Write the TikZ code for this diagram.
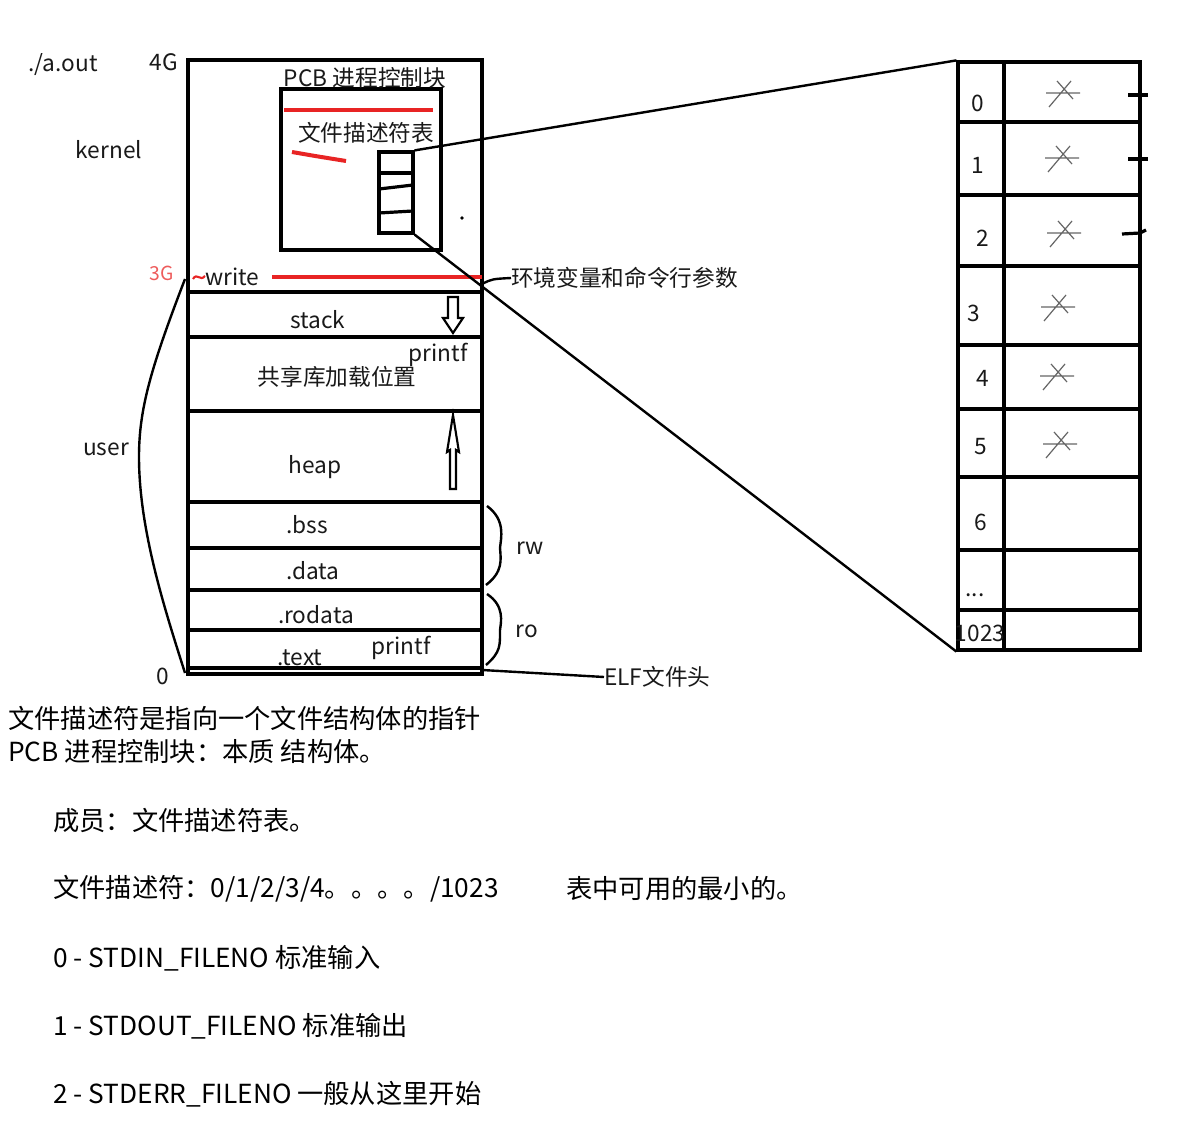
\documentclass[tikz,border=0pt]{standalone}
\usepackage{fontspec}
\setmainfont{Noto Sans CJK SC}
\usetikzlibrary{fit}
\definecolor{penred}{RGB}{232,36,36}
\newcommand{\diag}{\fontsize{17}{20}\selectfont}

\begin{document}
\begin{tikzpicture}[x=0.75pt, y=-0.75pt,
		box/.style={draw, line width=2.4pt, inner sep=0pt},
		sep/.style={line width=2.4pt},
		link/.style={line width=1.8pt},
		redline/.style={draw=penred, line width=3pt},
		lbl/.style={font=\diag, text=black!90, inner sep=0pt},
		note/.style={font=\fontsize{19.7}{23}\selectfont, anchor=west, inner sep=0pt},
		cross/.style={draw=black!60, line width=0.9pt}
	]
	\path[fill=white] (0,0) rectangle (1179,1137);

	% process address space
	\path (188,60) coordinate (m1) (482,674) coordinate (m2);
	\node[box, fit=(m1)(m2)] (mem) {};
	\foreach \y in {292,337,411,502,548,590,630,668}
		\draw[sep] (188,\y) -- (482,\y);

	% PCB inside kernel
	\path (281,89) coordinate (p1) (441,250) coordinate (p2);
	\node[box, fit=(p1)(p2)] (pcb) {};
	\node[lbl] (pcbtitle) at (365,78) {PCB 进程控制块};
	\node[lbl] (fdtitle) at (366,133) {文件描述符表};
	\draw[redline] (284,110) -- (433,110);
	\draw[redline] (292,152) .. controls (315,156) .. (346,161);
	\path (379,152) coordinate (s1) (413,233) coordinate (s2);
	\node[box, fit=(s1)(s2)] (fdsmall) {};
	\draw[sep] (379,173) -- (413,173);
	\draw[sep] (379,189) -- (413,185);
	\draw[sep] (379,213) -- (413,211);
	\fill (462,218) circle (1.8);

	% labels on the left
	\node[lbl] (aout) at (63,65) {./a.out};
	\node[lbl] (top4g) at (164,62) {4G};
	\node[lbl] (kernel) at (109,150) {kernel};
	\node[lbl, font=\fontsize{14.5}{16}\selectfont, text=penred!75] (mark3g) at (162,273) {3G};
	\node[lbl] (user) at (106,449) {user};
	\node[lbl] (zero) at (163,676) {0};

	% write and segments
	\draw[penred, line width=1.6pt] (193,279) .. controls (197,272) and (200,282) .. (205,276);
	\node[lbl, anchor=west] (write) at (205,277) {write};
	\draw[redline] (272,277) -- (482,277);
	\node[lbl] (stack) at (318,320) {stack};
	\draw[line width=1.6pt] (448,297) -- (458,297) -- (458,318) -- (463,318) -- (453,333)
		-- (443,318) -- (448,318) -- cycle;
	\node[lbl] (printfa) at (438,355) {printf};
	\node[lbl] (shlib) at (337,377) {共享库加载位置};
	\node[lbl] (heap) at (315,467) {heap};
	\draw[line width=1.6pt] (450,489) -- (450,450) -- (447,452) -- (453,415) -- (459,452)
		-- (456,450) -- (456,489) -- cycle;
	\node[lbl] (bss) at (307,525) {.bss};
	\node[lbl] (data) at (313,571) {.data};
	\node[lbl] (rodata) at (316,615) {.rodata};
	\node[lbl] (text) at (300,658) {.text};
	\node[lbl] (printfb) at (401,648) {printf};

	% braces
	\coordinate (u3g) at (185,279);
	\coordinate (u0) at (185,673);
	\draw[link] (u3g) .. controls (150,370) and (139,410) .. (139,457)
		.. controls (139,530) and (165,610) .. (u0);
	\coordinate (rwtop) at (487,506);
	\coordinate (rwbot) at (486,585);
	\draw[link] (rwtop) .. controls (506,520) and (501,538) .. (500,548)
		.. controls (501,560) and (503,572) .. (rwbot);
	\node[lbl] (rw) at (530,548) {rw};
	\coordinate (rotop) at (487,594);
	\coordinate (robot) at (486,665);
	\draw[link] (rotop) .. controls (505,606) and (501,622) .. (500,630)
		.. controls (500,645) and (501,652) .. (robot);
	\node[lbl] (ro) at (527,631) {ro};

	% env and ELF header
	\node[lbl, anchor=west] (env) at (511,278) {环境变量和命令行参数};
	\coordinate (envpt) at (482,284);
	\draw[link] (envpt) .. controls (492,279) .. (env.west);
	\node[lbl, anchor=west] (elf) at (604,677) {ELF文件头};
	\coordinate (elfpt) at (482,670);
	\draw[link] (elfpt) -- (elf.west);

	% file descriptor table
	\path (958,62) coordinate (t1) (1140,650) coordinate (t2);
	\node[box, fit=(t1)(t2)] (fdtab) {};
	\draw[sep] (1004,62) -- (1004,650);
	\foreach \y in {122,195,266,345,409,477,550,610}
		\draw[sep] (958,\y) -- (1140,\y);
	\foreach \n/\x/\y in {0/978/103, 1/978/165, 2/983/238, 3/974/313, 4/983/378, 5/981/447, 6/981/522}
		\node[lbl] (fd\n) at (\x,\y) {\n};
	\node[lbl] (fddots) at (975,595) {...};
	\node[lbl] (fdlast) at (980,633) {1023};
	\foreach \cx/\cy in {1063/93, 1062/158, 1064/233, 1058/307, 1057/376, 1060/444}
		\draw[cross] (\cx-17,\cy) -- (\cx+17,\cy)
			(\cx-14,\cy+14) -- (\cx+8,\cy-12)
			(\cx-6,\cy-12) -- (\cx+10,\cy+6);
	\draw[sep] (1128,95) -- (1148,95);
	\draw[sep] (1128,159) -- (1148,159);
	\draw[sep] (1122,234) -- (1140,233) -- (1146,230);

	\draw[link] (fdsmall.north east) -- (fdtab.north west);
	\draw[link] (fdsmall.south east) -- (fdtab.south west);

	% notes
	\node[note] (n1) at (8,718) {文件描述符是指向一个文件结构体的指针};
	\node[note] (n2) at (8,752) {PCB 进程控制块：本质 结构体。};
	\node[note] (n3) at (53,821) {成员：文件描述符表。};
	\node[note] (n4) at (53,889) {文件描述符：0/1/2/3/4。。。。/1023};
	\node[note] (n4b) at (566,889) {表中可用的最小的。};
	\node[note] (n5) at (53,958) {0 - STDIN\_FILENO 标准输入};
	\node[note] (n6) at (53,1026) {1 - STDOUT\_FILENO 标准输出};
	\node[note] (n7) at (53,1094) {2 - STDERR\_FILENO 一般从这里开始};
	\useasboundingbox (0,0) rectangle (1179,1137);
\end{tikzpicture}
\end{document}
